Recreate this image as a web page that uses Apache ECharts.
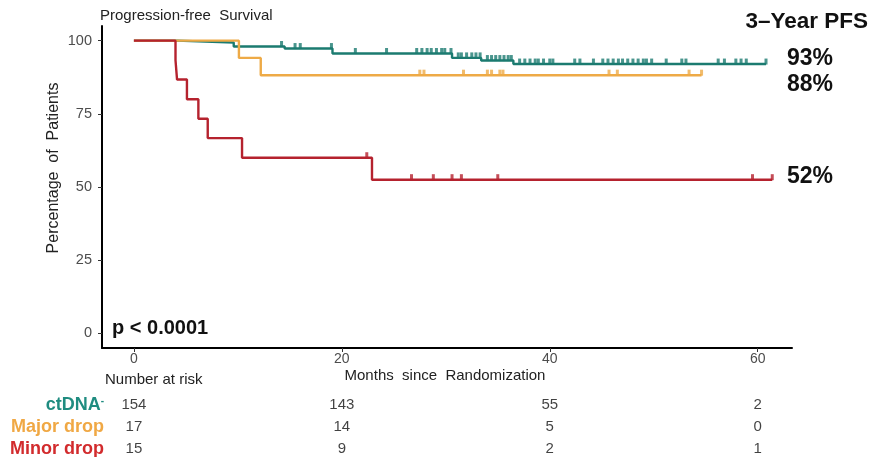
<!DOCTYPE html>
<html>
<head>
<meta charset="utf-8">
<script src="https://cdn.jsdelivr.net/npm/echarts@6/dist/echarts.min.js"></script>
<style>
html,body{margin:0;padding:0;background:#fff;}
#c{width:883px;height:457px;}
</style>
</head>
<body>
<div id="c"></div>
<script>
// ---- data ----
const xTicks = [0, 20, 40, 60];
const yTicks = [0, 25, 50, 75, 100];
const groups = ['ctDNA', 'Major drop', 'Minor drop'];
const pfs3 = ['93%', '88%', '52%'];

const ctdnaTimes = [0, 4.1, 9.6, 14.5, 19.1, 30.6, 33.4, 36.5, 60.8];
const ctdnaSurv  = [100, 99.35, 98.0, 97.3, 95.6, 94.1, 93.2, 92.0, 92.0];
const majorTimes = [0, 10.1, 12.2, 54.6];
const majorSurv  = [100, 94.1, 88.2, 88.2];
const minorTimes = [0, 4.0, 4.15, 5.1, 6.2, 7.1, 10.4, 22.9, 61.4];
const minorSurv  = [100, 93.3, 86.7, 80, 73.3, 66.7, 60, 52.5, 52.5];

const ctdnaCensor = [14.2, 15.5, 16.0, 19.0, 21.3, 24.3, 27.2, 27.7, 28.2, 28.6, 29.1, 29.6, 29.9,
  30.5, 31.2, 31.5, 32.0, 32.5, 32.9, 33.3, 34.0, 34.4, 34.8, 35.2, 35.6, 36.0, 36.3, 37.1, 37.6,
  38.1, 38.6, 38.9, 39.4, 40.0, 40.3, 42.4, 42.9, 44.2, 45.1, 45.6, 46.1, 46.6, 47.0, 47.5, 48.0,
  48.5, 49.0, 49.3, 49.8, 51.2, 52.7, 53.1, 56.2, 56.8, 57.9, 58.4, 58.9, 60.8];
const majorCensor = [27.5, 27.9, 31.7, 34.0, 34.4, 35.2, 35.5, 45.7, 46.5, 53.4, 54.6];
const minorCensor = [22.4, 26.7, 28.8, 30.6, 31.5, 35.0, 59.5, 61.4];

const riskTimes = [0, 20, 40, 60];
const riskCtdna = [154, 143, 55, 2];
const riskMajor = [17, 14, 5, 0];
const riskMinor = [15, 9, 2, 1];

// ---- styling ----
const cTeal = '#1b7b70', cOrange = '#eeaa46', cRed = '#b5222e';
const lTeal = '#1f8c80', lOrange = '#f0a844', lRed = '#d22b2d';
const FONT = '"Liberation Sans", Arial, Helvetica, sans-serif';

function stepAt(times, surv, t) {
  let v = surv[0];
  for (let i = 0; i < times.length; i++) { if (times[i] <= t) v = surv[i]; }
  return v;
}
function curve(times, surv) { return times.map((t, i) => [t, surv[i]]); }
function censor(times, surv, cens) { return cens.map(t => [t, stepAt(times, surv, t)]); }

const lineSeries = (name, times, surv, color, z) => ({
  type: 'line', name, xAxisIndex: 0, yAxisIndex: 0, step: 'end', symbol: 'none',
  data: curve(times, surv), lineStyle: { color, width: 2.4 }, z, silent: true
});
const censSeries = (name, times, surv, cens, color, z) => ({
  type: 'scatter', name: name + ' censored', xAxisIndex: 0, yAxisIndex: 0,
  symbol: 'rect', symbolSize: [3, 6], symbolOffset: [0, -2.5],
  itemStyle: { color }, data: censor(times, surv, cens), z, silent: true
});
const riskSeries = (rowIdx, vals) => ({
  type: 'scatter', xAxisIndex: 1, yAxisIndex: 1, symbolSize: 1,
  itemStyle: { color: 'transparent' },
  data: riskTimes.map((t, i) => [t, rowIdx, vals[i]]),
  label: { show: true, position: 'inside', formatter: p => String(p.value[2]),
           fontFamily: FONT, fontSize: 15, color: '#111' },
  silent: true
});

const chart = echarts.init(document.getElementById('c'), null, { renderer: 'canvas' });
chart.setOption({
  backgroundColor: '#fff',
  animation: false,
  grid: [
    { left: 102, top: 26, width: 690, height: 322, outerBoundsMode: 'none', containLabel: false },
    { left: 102, top: 394, width: 690, height: 63, outerBoundsMode: 'none', containLabel: false }
  ],
  xAxis: [
    { type: 'value', gridIndex: 0, min: -3.07, max: 63.3,
      axisLine: { show: true, onZero: false, lineStyle: { color: '#000', width: 2 } },
      axisTick: { show: true, length: 4, customValues: xTicks, lineStyle: { color: '#333' } },
      axisLabel: { customValues: xTicks, color: '#4d4d4d', fontFamily: FONT, fontSize: 14, margin: 4 },
      splitLine: { show: false } },
    { type: 'value', gridIndex: 1, min: -3.07, max: 63.3, show: false }
  ],
  yAxis: [
    { type: 'value', gridIndex: 0, min: -5, max: 105,
      axisLine: { show: true, onZero: false, lineStyle: { color: '#000', width: 2 } },
      axisTick: { show: true, length: 4, customValues: yTicks, lineStyle: { color: '#333' } },
      axisLabel: { customValues: yTicks, color: '#4d4d4d', fontFamily: FONT, fontSize: 14.5, margin: 10 },
      splitLine: { show: false } },
    { type: 'value', gridIndex: 1, inverse: true, min: -0.5, max: 2.3636,
      axisLine: { show: false }, axisTick: { show: false }, splitLine: { show: false },
      axisLabel: { margin: -2, fontFamily: FONT, customValues: [0, 1, 2],
        formatter: v => {
          const g = groups[Math.round(v)];
          if (g === 'ctDNA') return '{t|ctDNA}{s|-}';
          return (g === 'Major drop' ? '{o|' : '{r|') + g + '}';
        },
        rich: {
          t: { color: lTeal, fontWeight: 'bold', fontSize: 18, fontFamily: FONT },
          s: { color: lTeal, fontWeight: 'bold', fontSize: 10, fontFamily: FONT, padding: [0, 0, 8, 0] },
          o: { color: lOrange, fontWeight: 'bold', fontSize: 18, fontFamily: FONT },
          r: { color: lRed, fontWeight: 'bold', fontSize: 18, fontFamily: FONT }
        } } }
  ],
  series: [
    lineSeries('ctDNA', ctdnaTimes, ctdnaSurv, cTeal, 2),
    censSeries('ctDNA', ctdnaTimes, ctdnaSurv, ctdnaCensor, cTeal, 2),
    lineSeries('Major drop', majorTimes, majorSurv, cOrange, 3),
    censSeries('Major drop', majorTimes, majorSurv, majorCensor, cOrange, 3),
    lineSeries('Minor drop', minorTimes, minorSurv, cRed, 4),
    censSeries('Minor drop', minorTimes, minorSurv, minorCensor, cRed, 4),
    riskSeries(0, riskCtdna),
    riskSeries(1, riskMajor),
    riskSeries(2, riskMinor)
  ],
  graphic: [
    { type: 'text', left: 100, top: 8, style: { text: 'Progression-free  Survival', font: '15px ' + FONT, fill: '#222' } },
    { type: 'text', x: 868, y: 22, style: { text: '3\u2013Year PFS', font: 'bold 22.5px ' + FONT, fill: '#111', align: 'right', verticalAlign: 'middle' } },
    { type: 'text', x: 787, y: 59, style: { text: pfs3[0], font: 'bold 23px ' + FONT, fill: '#111', verticalAlign: 'middle' } },
    { type: 'text', x: 787, y: 85, style: { text: pfs3[1], font: 'bold 23px ' + FONT, fill: '#111', verticalAlign: 'middle' } },
    { type: 'text', x: 787, y: 177, style: { text: pfs3[2], font: 'bold 23px ' + FONT, fill: '#111', verticalAlign: 'middle' } },
    { type: 'text', x: 112, y: 328, style: { text: 'p < 0.0001', font: 'bold 20px ' + FONT, fill: '#111', verticalAlign: 'middle' } },
    { type: 'text', x: 54, y: 168, rotation: Math.PI / 2, style: { text: 'Percentage  of  Patients', font: '16px ' + FONT, fill: '#222', align: 'center', verticalAlign: 'middle' } },
    { type: 'text', x: 445, y: 376, style: { text: 'Months  since  Randomization', font: '15px ' + FONT, fill: '#222', align: 'center', verticalAlign: 'middle' } },
    { type: 'text', x: 105, y: 380, style: { text: 'Number at risk', font: '15px ' + FONT, fill: '#222', verticalAlign: 'middle' } }
  ]
});
</script>
</body>
</html>
